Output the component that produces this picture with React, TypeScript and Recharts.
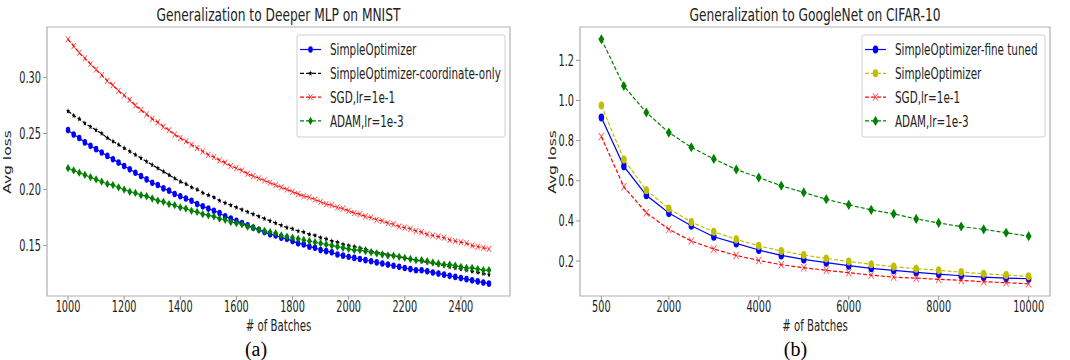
import React from "react";
import { LineChart, Line, XAxis, YAxis, ReferenceArea } from "recharts";

// (a) deeper MLP on MNIST, one point every 20 batches
const batchesA = [
  1000, 1020, 1040, 1060, 1080, 1100, 1120, 1140, 1160, 1180, 1200, 1220, 1240, 1260, 1280, 1300, 1320, 1340, 1360, 1380,
  1400, 1420, 1440, 1460, 1480, 1500, 1520, 1540, 1560, 1580, 1600, 1620, 1640, 1660, 1680, 1700, 1720, 1740, 1760, 1780,
  1800, 1820, 1840, 1860, 1880, 1900, 1920, 1940, 1960, 1980, 2000, 2020, 2040, 2060, 2080, 2100, 2120, 2140, 2160, 2180,
  2200, 2220, 2240, 2260, 2280, 2300, 2320, 2340, 2360, 2380, 2400, 2420, 2440, 2460, 2480, 2500,
];
const simpleA = [
  0.253, 0.249, 0.246, 0.242, 0.239, 0.236, 0.233, 0.23, 0.227, 0.224, 0.221, 0.218, 0.215, 0.212, 0.209, 0.206, 0.204, 0.201, 0.199, 0.196,
  0.194, 0.192, 0.19, 0.187, 0.185, 0.183, 0.181, 0.179, 0.176, 0.174, 0.172, 0.17, 0.168, 0.166, 0.164, 0.162, 0.16, 0.159, 0.157, 0.156,
  0.154, 0.152, 0.151, 0.149, 0.148, 0.146, 0.145, 0.144, 0.142, 0.141, 0.14, 0.139, 0.138, 0.137, 0.136, 0.135, 0.134, 0.133, 0.132, 0.131,
  0.13, 0.129, 0.128, 0.128, 0.127, 0.126, 0.125, 0.124, 0.123, 0.122, 0.121, 0.12, 0.119, 0.118, 0.117, 0.116,
];
const coordA = [
  0.27, 0.266, 0.263, 0.259, 0.256, 0.253, 0.25, 0.246, 0.243, 0.24, 0.237, 0.234, 0.231, 0.228, 0.225, 0.222, 0.219, 0.216, 0.213, 0.21,
  0.207, 0.205, 0.202, 0.2, 0.197, 0.195, 0.193, 0.19, 0.188, 0.186, 0.184, 0.182, 0.18, 0.178, 0.176, 0.174, 0.172, 0.17, 0.168, 0.166,
  0.165, 0.163, 0.162, 0.16, 0.159, 0.157, 0.156, 0.154, 0.153, 0.151, 0.15, 0.149, 0.148, 0.147, 0.145, 0.144, 0.143, 0.142, 0.141, 0.14,
  0.139, 0.138, 0.137, 0.136, 0.135, 0.134, 0.133, 0.132, 0.131, 0.13, 0.129, 0.128, 0.127, 0.126, 0.125, 0.124,
];
const sgdA = [
  0.334, 0.328, 0.322, 0.317, 0.312, 0.307, 0.302, 0.297, 0.293, 0.288, 0.284, 0.28, 0.275, 0.271, 0.267, 0.263, 0.26, 0.256, 0.253, 0.249,
  0.246, 0.243, 0.24, 0.237, 0.234, 0.231, 0.229, 0.226, 0.224, 0.221, 0.219, 0.217, 0.214, 0.212, 0.21, 0.208, 0.206, 0.204, 0.202, 0.2,
  0.198, 0.196, 0.194, 0.193, 0.191, 0.189, 0.187, 0.186, 0.184, 0.183, 0.181, 0.179, 0.178, 0.176, 0.175, 0.173, 0.172, 0.17, 0.169, 0.167,
  0.166, 0.165, 0.163, 0.162, 0.16, 0.159, 0.158, 0.157, 0.155, 0.154, 0.153, 0.152, 0.15, 0.149, 0.148, 0.147,
];
const adamA = [
  0.219, 0.217, 0.215, 0.213, 0.211, 0.209, 0.207, 0.205, 0.204, 0.202, 0.2, 0.198, 0.197, 0.195, 0.194, 0.192, 0.19, 0.189, 0.187, 0.186,
  0.184, 0.183, 0.181, 0.18, 0.178, 0.177, 0.176, 0.174, 0.173, 0.171, 0.17, 0.169, 0.167, 0.166, 0.164, 0.163, 0.162, 0.161, 0.159, 0.158,
  0.157, 0.156, 0.155, 0.154, 0.153, 0.152, 0.151, 0.15, 0.149, 0.148, 0.147, 0.146, 0.146, 0.145, 0.144, 0.143, 0.142, 0.141, 0.141, 0.14,
  0.139, 0.138, 0.137, 0.137, 0.136, 0.135, 0.134, 0.133, 0.133, 0.132, 0.131, 0.13, 0.13, 0.129, 0.128, 0.128,
];
const xTicksA = [1000, 1200, 1400, 1600, 1800, 2000, 2200, 2400];
const yTicksA = [0.15, 0.2, 0.25, 0.3];

// (b) GoogleNet on CIFAR-10, one point every 500 batches
const batchesB = [500, 1000, 1500, 2000, 2500, 3000, 3500, 4000, 4500, 5000, 5500, 6000, 6500, 7000, 7500, 8000, 8500, 9000, 9500, 10000];
const tunedB = [0.915, 0.672, 0.528, 0.439, 0.376, 0.321, 0.288, 0.255, 0.228, 0.208, 0.192, 0.177, 0.164, 0.154, 0.144, 0.135, 0.127, 0.12, 0.115, 0.112];
const simpleB = [0.975, 0.706, 0.553, 0.462, 0.394, 0.346, 0.308, 0.276, 0.25, 0.23, 0.213, 0.198, 0.184, 0.172, 0.162, 0.154, 0.145, 0.137, 0.13, 0.124];
const sgdB = [0.82, 0.57, 0.44, 0.358, 0.3, 0.26, 0.228, 0.203, 0.182, 0.167, 0.154, 0.142, 0.13, 0.12, 0.115, 0.109, 0.104, 0.097, 0.092, 0.087];
const adamB = [1.305, 1.072, 0.94, 0.84, 0.767, 0.709, 0.656, 0.616, 0.575, 0.542, 0.508, 0.48, 0.455, 0.435, 0.41, 0.39, 0.372, 0.358, 0.341, 0.324];
const xTicksB = [500, 2000, 4000, 6000, 8000, 10000];
const yTicksB = [0.2, 0.4, 0.6, 0.8, 1.0, 1.2];

const seriesA = [
  { key: "simple", name: "SimpleOptimizer", values: simpleA, color: "#0000ff", dash: undefined, marker: "o" },
  { key: "coord", name: "SimpleOptimizer-coordinate-only", values: coordA, color: "#000000", dash: "4 2", marker: "*" },
  { key: "sgd", name: "SGD,lr=1e-1", values: sgdA, color: "#ff0000", dash: "4 2", marker: "x" },
  { key: "adam", name: "ADAM,lr=1e-3", values: adamA, color: "#008000", dash: "4 2", marker: "d" },
];
const seriesB = [
  { key: "tuned", name: "SimpleOptimizer-fine tuned", values: tunedB, color: "#0000ff", dash: undefined, marker: "o" },
  { key: "simple", name: "SimpleOptimizer", values: simpleB, color: "#bfbf00", dash: "4 2", marker: "o" },
  { key: "sgd", name: "SGD,lr=1e-1", values: sgdB, color: "#ff0000", dash: "4 2", marker: "x" },
  { key: "adam", name: "ADAM,lr=1e-3", values: adamB, color: "#008000", dash: "4 2", marker: "d" },
];

const rowsA = batchesA.map((b, i) => {
  const row: Record<string, number> = { batch: b };
  seriesA.forEach((s) => (row[s.key] = s.values[i]));
  return row;
});
const rowsB = batchesB.map((b, i) => {
  const row: Record<string, number> = { batch: b };
  seriesB.forEach((s) => (row[s.key] = s.values[i]));
  return row;
});

const FONT = "'DejaVu Sans', sans-serif";
const INK = "#222";
const FRAME = "#b0b0b0";

// the original figure is squeezed sideways, so text gets a horizontal scale
function SqText({ x, y, size, sx = 0.65, anchor = "middle", rotate = false, children }: any) {
  const tf = rotate
    ? `translate(${x},${y}) rotate(-90) scale(1,${sx})`
    : `translate(${x},${y}) scale(${sx},1)`;
  return (
    <text transform={tf} textAnchor={anchor} fontFamily={FONT} fontSize={size} fill={INK}>
      {children}
    </text>
  );
}

function starPoints(cx: number, cy: number, r: number) {
  const pts: string[] = [];
  for (let i = 0; i < 10; i++) {
    const a = -Math.PI / 2 + (i * Math.PI) / 5;
    const rr = i % 2 === 0 ? r : r * 0.45;
    pts.push(`${cx + Math.cos(a) * rr * 0.65},${cy + Math.sin(a) * rr}`);
  }
  return pts.join(" ");
}

function Marker({ kind, cx, cy, color, k = 1 }: any) {
  if (cx == null || cy == null) return null;
  if (kind === "o") return <ellipse cx={cx} cy={cy} rx={2.5 * k} ry={3.7 * k} fill={color} />;
  if (kind === "*") return <polygon points={starPoints(cx, cy, 3.4 * k)} fill={color} />;
  if (kind === "x") {
    const w = 2.3 * k;
    const h = 3.4 * k;
    return (
      <path
        d={`M${cx - w},${cy - h}L${cx + w},${cy + h}M${cx - w},${cy + h}L${cx + w},${cy - h}`}
        stroke={color}
        strokeOpacity={0.7}
        strokeWidth={1}
        fill="none"
      />
    );
  }
  const w = 2.7 * k;
  const h = 4.6 * k;
  return <polygon points={`${cx},${cy - h} ${cx + w},${cy} ${cx},${cy + h} ${cx - w},${cy}`} fill={color} />;
}

function LegendBox({ x, y, w, h, items, k }: any) {
  return (
    <g>
      <rect x={x} y={y} width={w} height={h} rx={2} fill="#fff" stroke="#d0d0d0" />
      {items.map((s: any, i: number) => {
        const cy = y + 14.5 + i * 23.8;
        return (
          <g key={s.key}>
            <line x1={x + 3} x2={x + 24} y1={cy} y2={cy} stroke={s.color} strokeWidth={1.2} strokeDasharray={s.dash} />
            <Marker kind={s.marker} cx={x + 13.5} cy={cy} color={s.color} k={k} />
            <SqText x={x + 33} y={cy + 5.8} size={16} sx={0.65} anchor="start">
              {s.name}
            </SqText>
          </g>
        );
      })}
    </g>
  );
}

const XTick = (p: any) => (
  <SqText x={p.x} y={p.y + 9.5} size={15} sx={0.65}>
    {p.payload.value}
  </SqText>
);
const makeYTick = (digits: number) => (p: any) => (
  <SqText x={p.x} y={p.y + 5.5} size={15} sx={0.65} anchor="end">
    {Number(p.payload.value).toFixed(digits)}
  </SqText>
);

function Panel({ rows, series, xDomain, yDomain, xTicks, yTicks, digits, width, left, k }: any) {
  return (
    <LineChart width={width} height={360} data={rows} margin={{ top: 27, right: 10, bottom: 34, left }}>
      <XAxis
        dataKey="batch"
        type="number"
        domain={xDomain}
        ticks={xTicks}
        allowDataOverflow
        axisLine={false}
        tickLine={{ stroke: "#999" }}
        tickSize={4}
        tickMargin={2}
        height={30}
        tick={<XTick />}
      />
      <YAxis
        type="number"
        domain={yDomain}
        ticks={yTicks}
        allowDataOverflow
        axisLine={false}
        tickLine={{ stroke: "#999" }}
        tickSize={4}
        tickMargin={2}
        width={40}
        tick={makeYTick(digits)}
      />
      <ReferenceArea x1={xDomain[0]} x2={xDomain[1]} y1={yDomain[0]} y2={yDomain[1]} fill="none" fillOpacity={0} stroke={FRAME} strokeWidth={1.2} />
      {series.map((s: any) => (
        <Line
          key={s.key}
          type="linear"
          dataKey={s.key}
          stroke={s.color}
          strokeWidth={1.2}
          strokeDasharray={s.dash}
          dot={(p: any) => <Marker key={`${s.key}-${p.index}`} kind={s.marker} cx={p.cx} cy={p.cy} color={s.color} k={k} />}
          activeDot={false}
          isAnimationActive={false}
        />
      ))}
    </LineChart>
  );
}

export default function App() {
  return (
    <div style={{ position: "absolute", left: 0, top: 0, width: 1070, height: 360, background: "#fff" }}>
      <div style={{ position: "absolute", left: 0, top: 0 }}>
        <Panel rows={rowsA} series={seriesA} xDomain={[925, 2575]} yDomain={[0.105, 0.345]} xTicks={xTicksA} yTicks={yTicksA} digits={2} width={520} left={7} k={0.9} />
      </div>
      <div style={{ position: "absolute", left: 530, top: 0 }}>
        <Panel rows={rowsB} series={seriesB} xDomain={[25, 10475]} yDomain={[0.026, 1.366]} xTicks={xTicksB} yTicks={yTicksB} digits={1} width={530} left={10} k={1.1} />
      </div>
      <svg width={1070} height={360} style={{ position: "absolute", left: 0, top: 0, pointerEvents: "none" }}>
        <SqText x={278.5} y={21} size={18} sx={0.68}>Generalization to Deeper MLP on MNIST</SqText>
        <SqText x={815} y={21} size={18} sx={0.68}>Generalization to GoogleNet on CIFAR-10</SqText>
        <SqText x={278.5} y={331} size={15} sx={0.68}># of Batches</SqText>
        <SqText x={815} y={331} size={15} sx={0.68}># of Batches</SqText>
        <SqText x={10.8} y={162} size={15.5} sx={0.65} rotate>Avg loss</SqText>
        <SqText x={556} y={162} size={15.5} sx={0.65} rotate>Avg loss</SqText>
        <LegendBox x={297} y={35} w={208} h={102} items={seriesA} k={0.9} />
        <LegendBox x={862} y={35} w={183} h={102} items={seriesB} k={1.1} />
        <text x={256} y={356} textAnchor="middle" fontFamily="'Liberation Serif', serif" fontSize={20} fill="#000">(a)</text>
        <text x={795.5} y={356} textAnchor="middle" fontFamily="'Liberation Serif', serif" fontSize={20} fill="#000">(b)</text>
      </svg>
    </div>
  );
}
